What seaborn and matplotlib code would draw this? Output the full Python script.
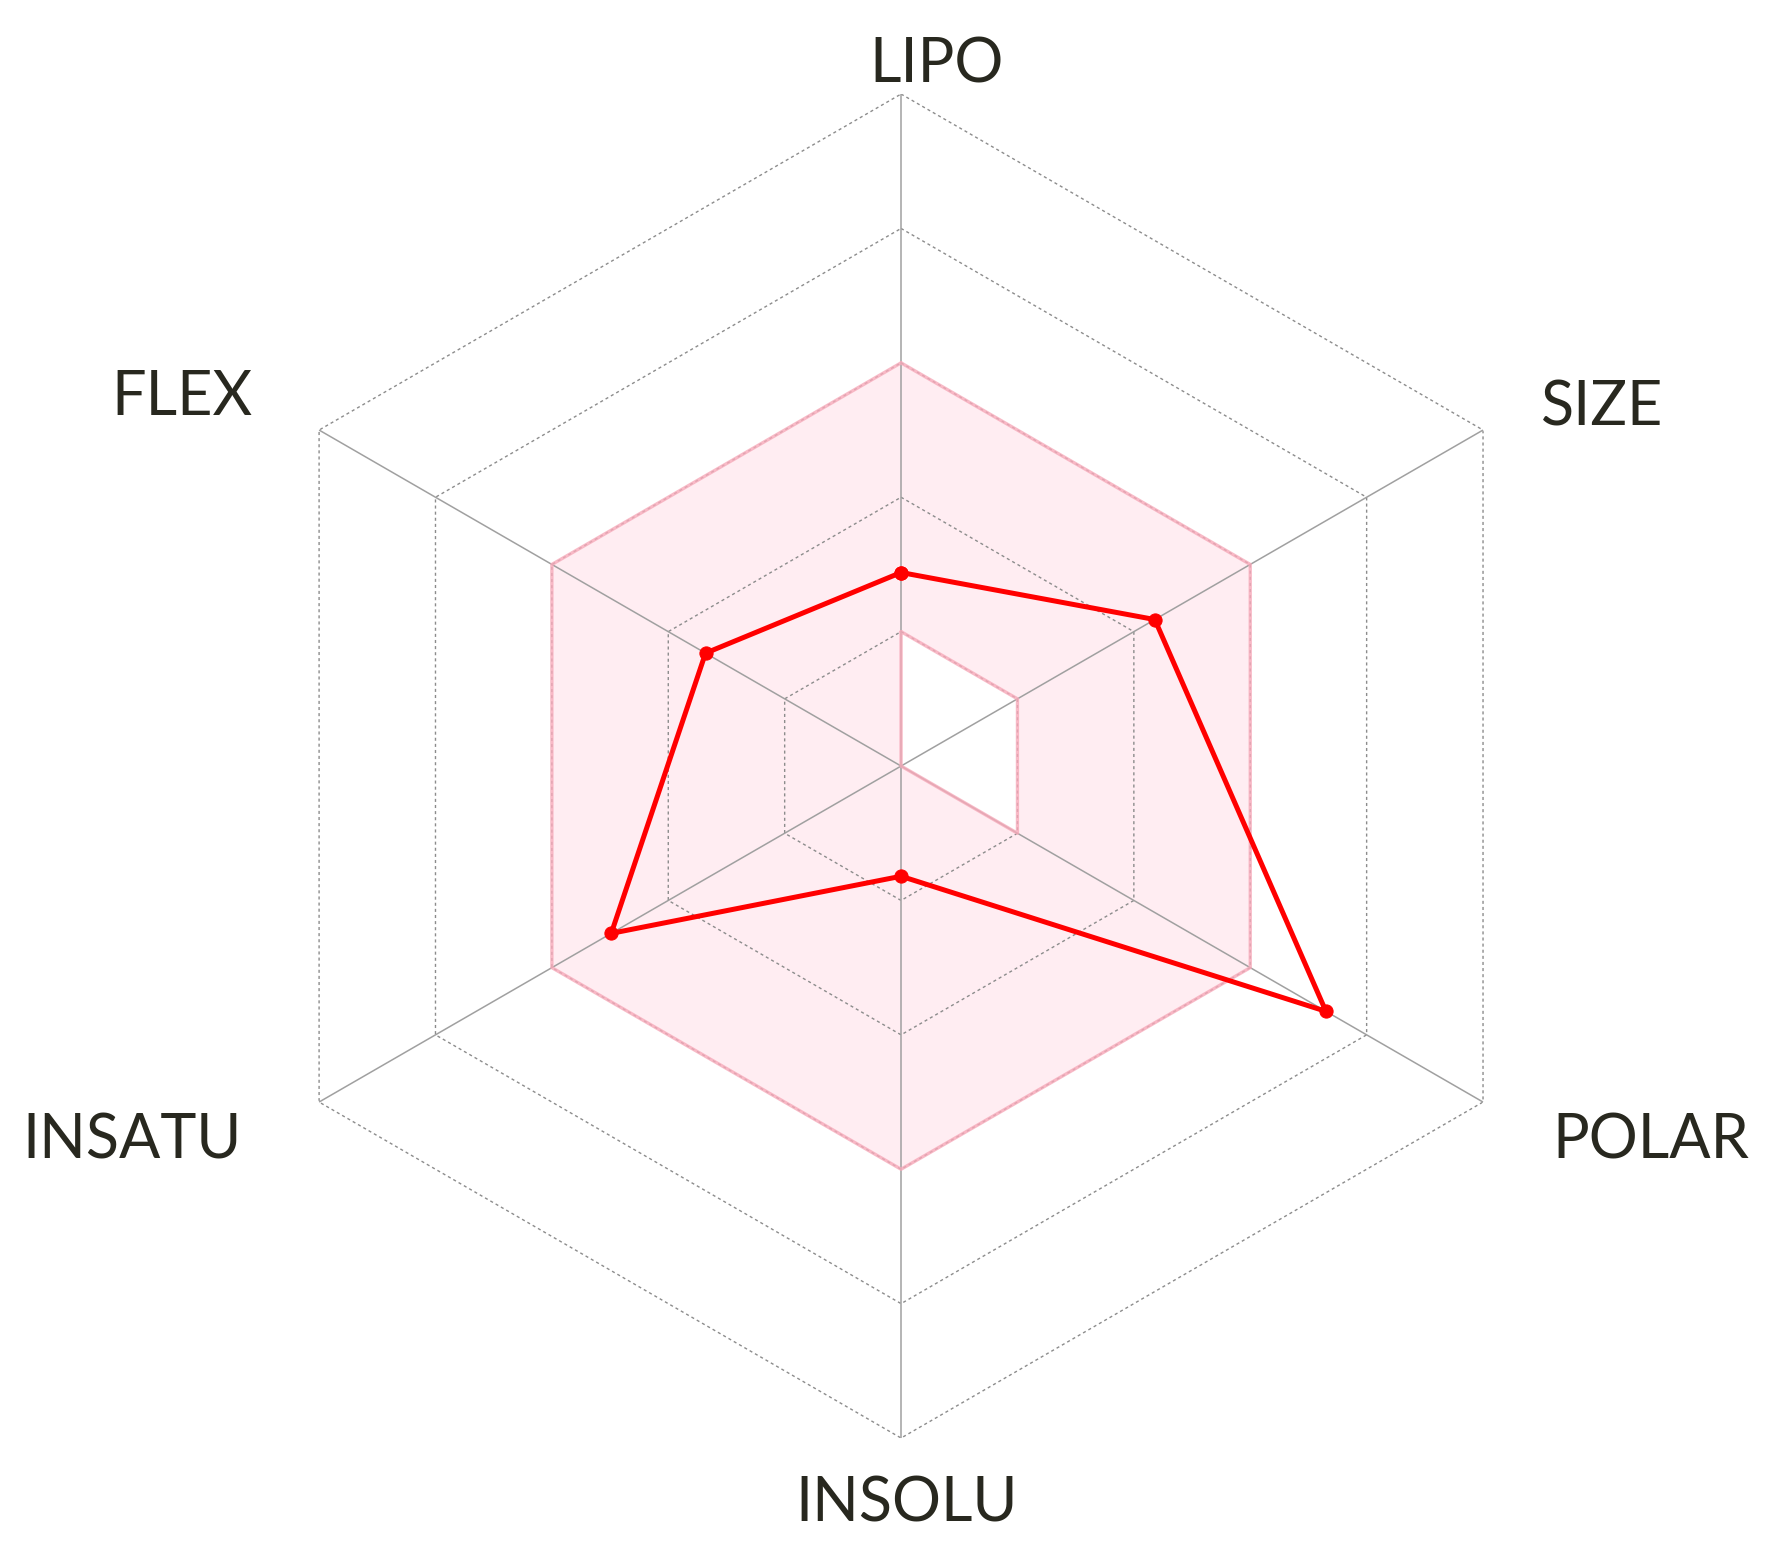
import numpy as np
import pandas as pd
import matplotlib
matplotlib.use("Agg")
import matplotlib.pyplot as plt
import seaborn as sns

# radar properties, clockwise from top
categorias = ["LIPO", "SIZE", "POLAR", "INSOLU", "INSATU", "FLEX"]
valores = [1.44, 2.18, 3.65, 0.82, 2.49, 1.68]
limite_inferior = [1, 1, 1, 0, 0, 0]   # pink band lower bound
limite_superior = [3, 3, 3, 3, 3, 3]   # pink band upper bound
aneis = [1, 2, 3, 4, 5]

# label positions (figure fractions)
pos_rotulos = {
    "LIPO": (0.524, 0.958),
    "SIZE": (0.896, 0.738),
    "POLAR": (0.923, 0.267),
    "INSOLU": (0.507, 0.034),
    "INSATU": (0.074, 0.267),
    "FLEX": (0.102, 0.745),
}

sns.set_style("white")
plt.rcParams['font.family'] = ['Lato', 'DejaVu Sans']

fig = plt.figure(figsize=(17.88, 15.57), dpi=100)
ax = fig.add_axes([0.1281, 0.0764, 0.7517, 0.8632], projection="polar")
ax.set_theta_offset(np.pi / 2)
ax.set_theta_direction(-1)

n = len(categorias)
ang = np.linspace(0, 2 * np.pi, n, endpoint=False)
ang_fech = np.append(ang, 2 * np.pi)
inf = limite_inferior + limite_inferior[:1]
sup = limite_superior + limite_superior[:1]

# pink band
ax.fill_between(ang_fech, inf, sup, color="#ffedf2", lw=0, zorder=1)

# grid rings (dashed) and spokes
for r in aneis:
    ax.plot(ang_fech, [r] * (n + 1), color="#8c8c8c", lw=1.0, ls=(0, (2.2, 2.2)), zorder=2)
for a in ang:
    ax.plot([a, a], [0, aneis[-1]], color="#a0a0a0", lw=1.1, zorder=2)

ax.plot(ang_fech, inf, color="#f7a9b9", lw=2.4, alpha=0.8, zorder=3)
ax.plot(ang_fech, sup, color="#f7a9b9", lw=2.4, alpha=0.8, zorder=3)

df = pd.DataFrame({"angulo": ang_fech, "valor": valores + valores[:1]})
sns.lineplot(data=df, x="angulo", y="valor", sort=False, ax=ax, color="#ff0000",
             lw=3.6, marker="o", markersize=9.5, markeredgecolor="#ff0000", zorder=5)

ax.set_ylim(0, aneis[-1])
ax.grid(False)
ax.spines["polar"].set_visible(False)
ax.set_xticks([])
ax.set_yticks([])
ax.set_xlabel("")
ax.set_ylabel("")
ax.patch.set_alpha(0)

for cat in categorias:
    x, y = pos_rotulos[cat]
    fig.text(x, y, cat, ha="center", va="center", fontsize=44, color="#28281f")

fig.savefig("out.png", dpi=100, facecolor="white")
